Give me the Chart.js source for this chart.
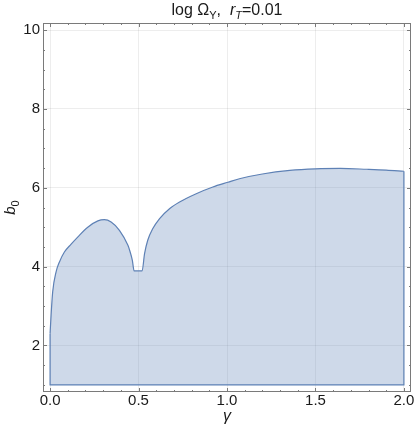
<!DOCTYPE html>
<html>
<head>
<meta charset="utf-8">
<script src="https://cdn.jsdelivr.net/npm/chart.js@4/dist/chart.umd.min.js"></script>
<style>
  html, body { margin: 0; padding: 0; background: #fff; }
  canvas { display: block; }
</style>
</head>
<body>
<canvas id="regionChart" width="416" height="436"></canvas>
<script>
// Upper boundary of the allowed region, b0 as a function of gamma
const upperX = [0, 0.0057, 0.0147, 0.034, 0.053, 0.081, 0.119, 0.156, 0.213, 0.27, 0.307, 0.345, 0.392, 0.44, 0.45, 0.465, 0.475,
                0.52, 0.534, 0.552, 0.58, 0.619, 0.675, 0.732, 0.826, 0.92, 1.005, 1.07, 1.2, 1.355, 1.5, 1.64, 1.79, 1.9, 2.0];
const upperY = [2.3, 2.77, 3.36, 3.87, 4.12, 4.37, 4.57, 4.75, 5.0, 5.16, 5.19, 5.13, 4.92, 4.54, 4.41, 4.16, 3.89,
                3.89, 4.33, 4.67, 4.96, 5.22, 5.47, 5.64, 5.85, 6.02, 6.14, 6.23, 6.35, 6.44, 6.48, 6.49, 6.47, 6.45, 6.42];
// lower boundary of the region
const baseB0 = 1;

const xTicks = [0, 0.5, 1, 1.5, 2];
const yTicks = [2, 4, 6, 8, 10];

const FONT = "'Liberation Sans', Arial, sans-serif";
const frameColor = '#7a7a7a';
const lineColor = 'rgb(94,129,181)';

const last = upperX.length - 1;
const edgePoints = [
    { x: upperX[0], y: upperY[0] },
    { x: upperX[0], y: baseB0 },
    { x: upperX[last], y: baseB0 },
    { x: upperX[last], y: upperY[last] }
];

// Draws text made of runs (plain / italic / subscript) centred at cx
function drawRuns(ctx, runs, cx, baseline, size) {
    const fontFor = r => (r.italic ? 'italic ' : '') + (r.sub ? Math.round(size * 0.7) : size) + 'px ' + FONT;
    let total = 0;
    runs.forEach(r => { ctx.font = fontFor(r); total += ctx.measureText(r.text).width; });
    let x = cx - total / 2;
    ctx.textAlign = 'left';
    ctx.textBaseline = 'alphabetic';
    runs.forEach(r => {
        ctx.font = fontFor(r);
        ctx.fillText(r.text, x, baseline + (r.sub ? size * 0.28 : 0));
        x += ctx.measureText(r.text).width;
    });
}

const framePlugin = {
    id: 'frame',
    afterDraw(chart) {
        const ctx = chart.ctx;
        const area = chart.chartArea;
        const xs = chart.scales.x, ys = chart.scales.y;
        ctx.save();
        ctx.strokeStyle = frameColor;
        ctx.lineWidth = 1;
        ctx.strokeRect(area.left + 0.5, area.top + 0.5, area.right - area.left - 1, area.bottom - area.top - 1);

        // inward ticks on all four sides
        ctx.beginPath();
        for (let i = 0; i <= 20; i++) {
            const len = i % 5 === 0 ? 4 : 2;
            const px = Math.round(xs.getPixelForValue(i / 10)) + 0.5;
            ctx.moveTo(px, area.bottom); ctx.lineTo(px, area.bottom - len);
            ctx.moveTo(px, area.top); ctx.lineTo(px, area.top + len);
        }
        for (let i = 2; i <= 20; i++) {
            const v = i / 2;
            const len = v % 2 === 0 ? 4 : 2;
            const py = Math.round(ys.getPixelForValue(v)) + 0.5;
            ctx.moveTo(area.left, py); ctx.lineTo(area.left + len, py);
            ctx.moveTo(area.right, py); ctx.lineTo(area.right - len, py);
        }
        ctx.stroke();

        ctx.fillStyle = '#1a1a1a';
        const cx = (area.left + area.right) / 2;
        drawRuns(ctx, [
            { text: 'log \u03A9' },
            { text: 'Y', sub: true },
            { text: ',  ' },
            { text: 'r', italic: true },
            { text: 'T', italic: true, sub: true },
            { text: '=0.01' }
        ], cx, 15, 16);
        drawRuns(ctx, [{ text: '\u03B3', italic: true }], cx, 421, 16);
        ctx.translate(15, (area.top + area.bottom) / 2);
        ctx.rotate(-Math.PI / 2);
        drawRuns(ctx, [{ text: 'b', italic: true }, { text: '0', sub: true }], 0, 0, 15);
        ctx.restore();
    }
};

const ctx = document.getElementById('regionChart').getContext('2d');
new Chart(ctx, {
    type: 'scatter',
    data: {
        datasets: [{
            data: upperX.map((x, i) => ({ x: x, y: upperY[i] })),
            showLine: true,
            fill: { value: baseB0 },
            cubicInterpolationMode: 'monotone',
            pointRadius: 0,
            borderWidth: 1.2,
            borderColor: lineColor,
            backgroundColor: 'rgba(94,129,181,0.3)'
        }, {
            data: edgePoints,
            showLine: true,
            fill: false,
            tension: 0,
            pointRadius: 0,
            borderWidth: 1.2,
            borderColor: lineColor
        }]
    },
    options: {
        responsive: false,
        animation: false,
        devicePixelRatio: 1,
        layout: { padding: { top: 23, right: 5, left: 0, bottom: 0 } },
        plugins: {
            legend: { display: false },
            tooltip: { enabled: false }
        },
        scales: {
            x: {
                type: 'linear',
                min: -0.04,
                max: 2.04,
                afterBuildTicks: s => { s.ticks = xTicks.map(v => ({ value: v })); },
                afterFit: s => { s.height = 44; },
                border: { display: false },
                grid: { color: 'rgba(0,0,0,0.07)', drawTicks: false },
                ticks: {
                    callback: v => v.toFixed(1),
                    padding: 0,
                    maxRotation: 0,
                    autoSkip: false,
                    color: '#1a1a1a',
                    font: { family: FONT, size: 15 }
                }
            },
            y: {
                type: 'linear',
                min: 0.82,
                max: 10.18,
                afterBuildTicks: s => { s.ticks = yTicks.map(v => ({ value: v })); },
                afterFit: s => { s.width = 43; },
                border: { display: false },
                grid: { color: 'rgba(0,0,0,0.07)', drawTicks: false },
                ticks: {
                    padding: 3,
                    autoSkip: false,
                    color: '#1a1a1a',
                    font: { family: FONT, size: 15 }
                }
            }
        }
    },
    plugins: [framePlugin]
});
</script>
</body>
</html>
